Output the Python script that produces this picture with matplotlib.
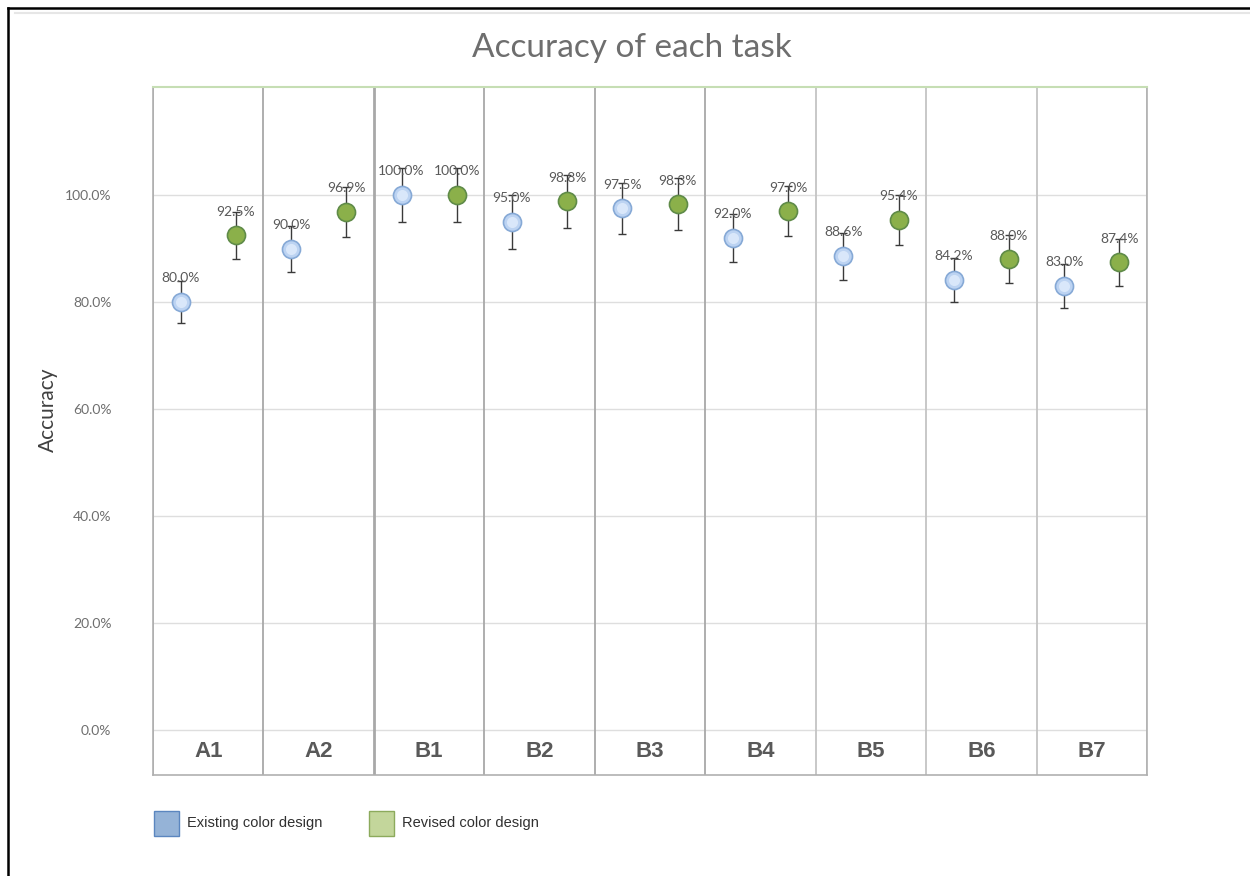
import matplotlib
matplotlib.use("Agg")
import matplotlib.pyplot as plt
from matplotlib.lines import Line2D
from matplotlib.patches import Rectangle
import numpy as np

# Task accuracy data (percent)
tasks = ["A1", "A2", "B1", "B2", "B3", "B4", "B5", "B6", "B7"]
existing = [80.0, 90.0, 100.0, 95.0, 97.5, 92.0, 88.6, 84.2, 83.0]
revised = [92.5, 96.9, 100.0, 98.8, 98.3, 97.0, 95.4, 88.0, 87.4]
existing_err = [4.0, 4.3, 5.0, 5.0, 4.8, 4.5, 4.4, 4.1, 4.1]
revised_err = [4.4, 4.7, 5.0, 5.0, 4.9, 4.7, 4.7, 4.5, 4.4]
yticks = [0, 20, 40, 60, 80, 100]
series_names = ["Existing color design", "Revised color design"]

TXT = "#595959"
FONT = "Lato"

fig = plt.figure(figsize=(12.5, 8.76), dpi=100)
ax = fig.add_axes([153 / 1250, 1 - 775 / 876, (1147 - 153) / 1250, (775 - 87) / 876])

n = len(tasks)
ax.set_xlim(0, n)
ax.set_ylim(-8.4, 120.2)

# horizontal gridlines
for v in yticks:
    ax.axhline(v, color="#dedede", lw=1.0, zorder=0)

# category separators
for i in range(n + 1):
    lw = 2.0 if i == 2 else 1.3
    col = "#a8a8a8" if i <= 5 else "#c4c4c4"
    ax.axvline(i, color=col, lw=lw, zorder=1)

for s in ["left", "right", "bottom"]:
    ax.spines[s].set_color("#b0b0b0")
    ax.spines[s].set_linewidth(1.2)
ax.spines["top"].set_color("#c6deb4")
ax.spines["top"].set_linewidth(1.5)

x = np.arange(n)
x_ex = x + 0.25
x_rv = x + 0.75

ax.errorbar(x_ex, existing, yerr=existing_err, fmt="none", ecolor="#3a3a3a",
            elinewidth=1.0, capsize=3, capthick=1.0, zorder=3)
ax.errorbar(x_rv, revised, yerr=revised_err, fmt="none", ecolor="#3a3a3a",
            elinewidth=1.0, capsize=3, capthick=1.0, zorder=3)

# markers with a soft highlight
ax.plot(x_ex, existing, "o", ms=13, mfc="#bcd3f2", mec="#86a9d6", mew=1.2, zorder=4)
ax.plot(x_ex, existing, "o", ms=8, mfc="#d9e7fa", mec="none", zorder=5)
ax.plot(x_rv, revised, "o", ms=13, mfc="#8bb04a", mec="#5f8b48", mew=1.2, zorder=4)

for xs, vals in ((x_ex, existing), (x_rv, revised)):
    for xi, v in zip(xs, vals):
        ax.annotate(f"{v:.1f}%", (xi, v), xytext=(0, 17), textcoords="offset points",
                    ha="center", va="center", fontsize=10, color=TXT,
                    family=FONT, zorder=6)

# category labels in the band below zero
for i, t in enumerate(tasks):
    ax.text(i + 0.5, -4.1, t, ha="center", va="center", fontsize=16,
            fontweight="bold", color=TXT, family="Liberation Sans")

ax.set_xticks([])
ax.set_yticks(yticks)
ax.set_yticklabels([f"{v:.1f}%" for v in yticks], fontsize=10, color="#6e6e6e",
                   family=FONT)
ax.tick_params(axis="y", length=0, pad=30)

fig.text(632 / 1250, 1 - 48 / 876, "Accuracy of each task", ha="center",
         va="center", fontsize=24, color="#6e6e6e", family=FONT)
fig.text(48 / 1250, 1 - 410 / 876, "Accuracy", rotation=90, ha="center",
         va="center", fontsize=15, color="#404040", family=FONT)

# legend
legend_items = [(154, "#95b3d7", "#5b86bf", series_names[0]),
                (369, "#c3d69b", "#8caa5c", series_names[1])]
for x0, fc, ec, label in legend_items:
    fig.patches.append(Rectangle((x0 / 1250, 1 - 836 / 876), 25 / 1250, 25 / 876,
                                 transform=fig.transFigure, facecolor=fc,
                                 edgecolor=ec, lw=1.0))
    fig.text((x0 + 33) / 1250, 1 - 823 / 876, label, ha="left", va="center",
             fontsize=10.5, color="#303030", family="Liberation Sans")

# outer frame lines
fig.add_artist(Line2D([8 / 1250, 8 / 1250], [0, 1 - 8 / 876], color="black",
                      lw=1.8, transform=fig.transFigure))
fig.add_artist(Line2D([8 / 1250, 1], [1 - 8 / 876, 1 - 8 / 876], color="black",
                      lw=1.8, transform=fig.transFigure))
fig.add_artist(Line2D([15 / 1250, 1], [1 - 13 / 876, 1 - 13 / 876], color="#e6e6e6",
                      lw=1.5, transform=fig.transFigure))

fig.savefig("out.png", dpi=100, facecolor="white")
